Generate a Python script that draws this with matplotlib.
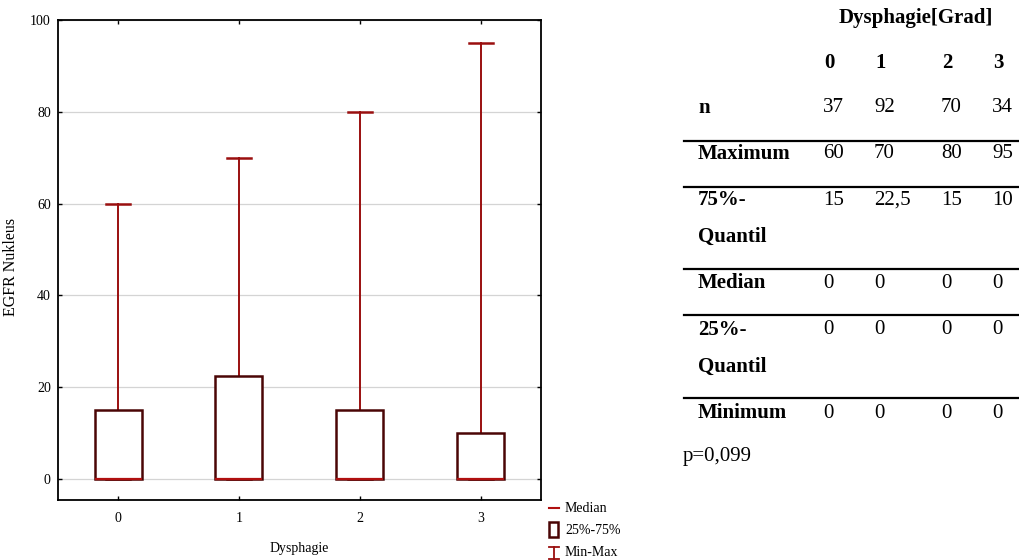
import matplotlib
matplotlib.use("Agg")
import matplotlib.pyplot as plt
from matplotlib.lines import Line2D
from matplotlib.patches import Rectangle

plt.rcParams['font.family'] = ['Liberation Serif', 'DejaVu Serif']

# Kennwerte EGFR Nukleus je Dysphagie-Grad
grade = ['0', '1', '2', '3']
n_werte = [37, 92, 70, 34]
maximum = [60, 70, 80, 95]
q75 = [15, 22.5, 15, 10]
median = [0, 0, 0, 0]
q25 = [0, 0, 0, 0]
minimum = [0, 0, 0, 0]
p_wert = '0,099'

W, H = 1020, 560
fig = plt.figure(figsize=(W / 100, H / 100), dpi=100)


def px(x, y):
    # Pixelkoordinaten -> Figurenkoordinaten
    return x / W, 1 - y / H


# --------------------------
# Boxplot
# --------------------------
ax = fig.add_axes([57.7 / W, 1 - 500 / H, (541 - 57.7) / W, (500 - 20.3) / H])

stats = []
for i in range(len(grade)):
    stats.append({'med': median[i], 'q1': q25[i], 'q3': q75[i],
                  'whislo': minimum[i], 'whishi': maximum[i], 'label': grade[i]})

ax.bxp(stats, positions=range(len(grade)), widths=0.39, capwidths=0.2,
       showfliers=False, patch_artist=True,
       boxprops=dict(facecolor='white', edgecolor='#4a0505', linewidth=1.8, zorder=3),
       whiskerprops=dict(color='#9a0f0f', linewidth=1.4, zorder=2),
       capprops=dict(color='#9a0f0f', linewidth=1.8, zorder=2),
       medianprops=dict(color='#b01010', linewidth=1.6, zorder=4))

ax.set_xlim(-0.5, 3.5)
ax.set_ylim(-4.6, 100)
ax.set_yticks([0, 20, 40, 60, 80, 100])
ax.set_xticks(range(len(grade)))
ax.set_xticklabels(grade)
ax.yaxis.grid(True, color='#d4d4d4', linewidth=0.9, zorder=0)
ax.set_axisbelow(True)
ax.tick_params(direction='in', length=3, width=1, labelsize=10,
               top=True, right=True)
ax.tick_params(axis='x', pad=9)
ax.tick_params(axis='y', pad=5)
for s in ax.spines.values():
    s.set_linewidth(1.3)

ax.set_xlabel('Dysphagie', fontsize=10, labelpad=12)
ax.set_ylabel('EGFR Nukleus', fontsize=11.5)
ax.yaxis.set_label_coords(-(57.7 - 19) / (541 - 57.7), 0.485)

# Legende
fig.add_artist(Line2D([549 / W, 559 / W], [1 - 508 / H] * 2, color='#b01010', lw=1.5))
fig.text(*px(565, 508), 'Median', fontsize=10, va='center')
bx, by = px(549, 537)
fig.add_artist(Rectangle((bx, by), 9 / W, 15 / H, transform=fig.transFigure,
                         facecolor='white', edgecolor='#4a0505', lw=1.8))
fig.text(*px(565, 530), '25%-75%', fontsize=10, va='center')
fig.add_artist(Line2D([554 / W] * 2, [1 - 547 / H, 1 - 559 / H], color='#9a0f0f', lw=1.3))
fig.add_artist(Line2D([549 / W, 559 / W], [1 - 547 / H] * 2, color='#9a0f0f', lw=1.3))
fig.add_artist(Line2D([549 / W, 559 / W], [1 - 559 / H] * 2, color='#9a0f0f', lw=1.3))
fig.text(*px(565, 553), 'Min-Max', fontsize=10, va='center')

# --------------------------
# Tabelle rechts
# --------------------------
fs = 15
fig.text(*px(916, 18), 'Dysphagie[Grad]', fontsize=fs, fontweight='bold',
         ha='center', va='center')

spalten_x = [824, 875, 942, 993]
for x, g in zip(spalten_x, grade):
    fig.text(*px(x, 63), g, fontsize=fs, fontweight='bold', va='center')


def fmt(v):
    return f'{v:g}'.replace('.', ',')


zeilen = [
    (['n'], 108, n_werte),
    (['Maximum'], 154, maximum),
    (['75%-', 'Quantil'], 200, q75),
    (['Median'], 283, median),
    (['25%-', 'Quantil'], 330, q25),
    (['Minimum'], 413, minimum),
]
for labels, y, werte in zeilen:
    for k, lab in enumerate(labels):
        fig.text(*px(698, y + k * 37), lab, fontsize=fs, fontweight='bold', va='center')
    for x, v in zip(spalten_x, werte):
        fig.text(*px(x - 1, y), fmt(v), fontsize=fs, va='center')

for y in [141, 187, 269, 315, 398]:
    fig.add_artist(Line2D([684 / W, 1.0], [1 - y / H] * 2, color='black', lw=1.6))

fig.text(*px(683, 457), f'p={p_wert}', fontsize=fs, va='center')

fig.savefig('out.png', dpi=100)
